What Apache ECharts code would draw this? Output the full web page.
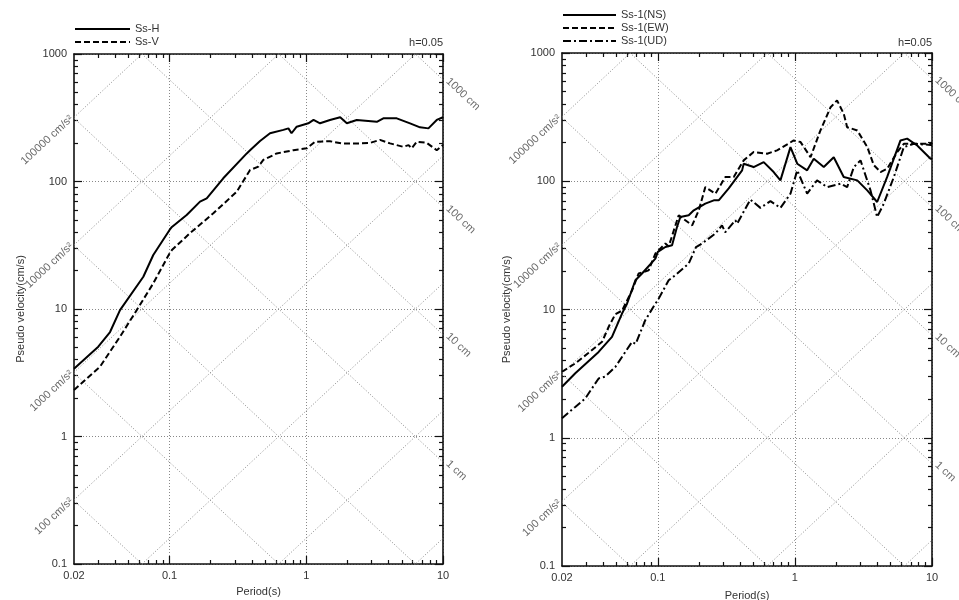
<!DOCTYPE html>
<html>
<head>
<meta charset="utf-8">
<title>Pseudo velocity response spectra</title>
<script src="https://cdn.jsdelivr.net/npm/echarts@6/dist/echarts.min.js"></script>
<style>
  html, body { margin: 0; padding: 0; background: #fff; }
  #chart { width: 959px; height: 600px; }
</style>
</head>
<body>
<div id="chart"></div>
<script>
// ---- axis ranges and tick values ----
const periodMin = 0.02, periodMax = 10;
const velMin = 0.1, velMax = 1000;
const periodLabelValues = [0.02, 0.1, 1, 10];
const periodLabels = ['0.02', '0.1', '1', '10'];
const periodMajor = [0.1, 1, 10];
const periodMinor = [0.03, 0.04, 0.05, 0.06, 0.07, 0.08, 0.09,
                     0.2, 0.3, 0.4, 0.5, 0.6, 0.7, 0.8, 0.9,
                     2, 3, 4, 5, 6, 7, 8, 9];
const velLabelValues = [0.1, 1, 10, 100, 1000];
const velLabels = ['0.1', '1', '10', '100', '1000'];
const velMinor = [0.2, 0.3, 0.4, 0.5, 0.6, 0.7, 0.8, 0.9,
                  2, 3, 4, 5, 6, 7, 8, 9,
                  20, 30, 40, 50, 60, 70, 80, 90,
                  200, 300, 400, 500, 600, 700, 800, 900];

// ---- tripartite guide lines: constant acceleration (cm/s2) and displacement (cm) ----
const accelLevels = [0.1, 1, 10, 100, 1000, 10000, 100000];
const dispLevels = [0.001, 0.01, 0.1, 1, 10, 100, 1000];
const accelLabelLevels = [100, 1000, 10000, 100000];
const accelLabelTexts = ['100 cm/s²', '1000 cm/s²', '10000 cm/s²', '100000 cm/s²'];
const dispLabelLevels = [1, 10, 100, 1000];
const dispLabelTexts = ['1 cm', '10 cm', '100 cm', '1000 cm'];

// ---- left panel: design spectra ----
const ssHPeriod = [0.02, 0.0301, 0.0367, 0.0434, 0.0643, 0.076, 0.1, 0.104, 0.1334, 0.167, 0.187, 0.247, 0.367, 0.388, 0.459, 0.543, 0.68, 0.74, 0.78, 0.851, 1.035, 1.13, 1.261, 1.49, 1.77, 1.98, 2.34, 3.28, 3.66, 4.59, 5.74, 6.79, 7.82, 9.0, 10];
const ssHVel = [3.4, 5.06, 6.6, 9.8, 17.9, 26.5, 41.7, 44, 54.6, 69.5, 73.8, 106, 166, 176, 208, 239, 254, 261, 239, 269, 286, 304, 286, 304, 319, 286, 304, 294, 313, 313, 286, 266, 261, 304, 319];
const ssVPeriod = [0.02, 0.031, 0.0434, 0.0575, 0.076, 0.1, 0.104, 0.141, 0.209, 0.31, 0.388, 0.446, 0.485, 0.608, 0.804, 1.007, 1.16, 1.49, 1.82, 2.47, 2.93, 3.46, 4.1, 5.13, 5.6, 5.9, 6.43, 7.6, 9.0, 10];
const ssVVel = [2.32, 3.53, 6.06, 9.8, 15.9, 27.3, 29, 39.3, 56.3, 83.2, 123, 131, 147.6, 166, 176, 182, 205, 207, 199, 199, 201, 212, 199, 187, 193, 182, 205, 201, 176, 193];

// ---- right panel: Ss-1 components ----
const nsPeriod = [0.02, 0.025, 0.037, 0.0463, 0.0548, 0.0596, 0.0686, 0.0767, 0.096, 0.1, 0.1135, 0.127, 0.138, 0.146, 0.168, 0.183, 0.222, 0.256, 0.278, 0.329, 0.412, 0.423, 0.5, 0.592, 0.7, 0.784, 0.928, 1.04, 1.228, 1.373, 1.624, 1.92, 2.27, 2.85, 3.37, 3.98, 4.71, 5.89, 6.59, 7.8, 9.76, 10];
const nsVel = [2.5, 3.18, 4.67, 6.12, 9.3, 11.1, 16.9, 19.1, 24.9, 28.1, 30.7, 31.7, 44, 52.6, 54.3, 59.4, 66.9, 71, 71, 88, 121.6, 137, 129, 141, 118, 101.6, 184.6, 137, 121.6, 150, 129, 154, 108, 101.6, 84.9, 68.9, 108, 208, 215, 190, 150, 150];
const ewPeriod = [0.02, 0.025, 0.0313, 0.0392, 0.044, 0.049, 0.0548, 0.0649, 0.0725, 0.0857, 0.096, 0.1135, 0.12, 0.142, 0.178, 0.199, 0.222, 0.263, 0.311, 0.358, 0.423, 0.5, 0.627, 0.741, 0.98, 1.1, 1.3, 1.535, 1.82, 2.03, 2.27, 2.405, 2.85, 3.37, 3.76, 4.21, 4.71, 5.57, 6.23, 9.76, 10];
const ewVel = [3.27, 3.8, 4.6, 5.6, 7.4, 9.2, 9.8, 14.1, 19.1, 20.2, 27.3, 32.7, 31, 54.3, 45.3, 59.4, 90, 80, 108, 108, 145.5, 168.8, 164, 174, 208, 202, 154, 249, 378, 427, 336, 264, 249, 185, 133.7, 118, 125, 168.8, 196, 196, 200];
const udPeriod = [0.02, 0.025, 0.0296, 0.037, 0.0414, 0.049, 0.0649, 0.069, 0.081, 0.096, 0.1, 0.12, 0.134, 0.168, 0.19, 0.21, 0.263, 0.294, 0.31, 0.368, 0.379, 0.473, 0.56, 0.663, 0.784, 0.928, 1.04, 1.228, 1.45, 1.72, 2.15, 2.405, 2.69, 3.01, 3.56, 3.98, 4.45, 5.27, 6.23, 7.37, 9.76, 10];
const udVel = [1.42, 1.74, 2.03, 2.9, 3.0, 3.57, 5.59, 5.4, 8.26, 11.1, 11.8, 16.9, 18.5, 22.8, 30.7, 32.7, 39.1, 45.3, 40, 49.6, 46.7, 72, 62, 70, 62, 80, 121.6, 80, 101.6, 90, 95.8, 90, 129, 145.5, 84.9, 52.6, 66.9, 108, 184.6, 196, 192, 190];

// ---- styling ----
const FONT = '"Liberation Sans", Arial, Helvetica, sans-serif';
const TEXT = '#333';
const TWO_PI = 2 * Math.PI;
const frameStyle = { color: '#111', width: 1.6 };
const tickStyle = { color: '#111', width: 1.2 };
const guideStyle = { color: '#888', width: 1, type: [1, 2] };
const SOLID = 'solid', DASHED = [6, 3], DASHDOT = [8, 3, 2, 3];

const panels = [
  { grid: { left: 74, top: 54, width: 369, height: 510 }, xNameGap: 22, yNameGap: 48,
    curves: [ { name: 'Ss-H', t: ssHPeriod, v: ssHVel, dash: SOLID },
              { name: 'Ss-V', t: ssVPeriod, v: ssVVel, dash: DASHED } ],
    legendTop: 23, legendWidth: 55 },
  { grid: { left: 562, top: 53, width: 370, height: 513 }, xNameGap: 24, yNameGap: 50,
    curves: [ { name: 'Ss-1(NS)', t: nsPeriod, v: nsVel, dash: SOLID },
              { name: 'Ss-1(EW)', t: ewPeriod, v: ewVel, dash: DASHED },
              { name: 'Ss-1(UD)', t: udPeriod, v: udVel, dash: DASHDOT } ],
    legendTop: 9, legendWidth: 53 }
];

function labelFor(values, texts) {
  return function (v) {
    for (let i = 0; i < values.length; i++) {
      if (Math.abs(Math.log10(v / values[i])) < 1e-6) return texts[i];
    }
    return '';
  };
}

function logAxis(gi, min, max, extra) {
  return Object.assign({
    type: 'log', logBase: 10, gridIndex: gi, min: min, max: max,
    axisLine: { show: false }, axisLabel: { show: false },
    splitLine: { show: false }, axisTick: { show: false }
  }, extra);
}

const grids = [], xAxes = [], yAxes = [], series = [], legends = [], titles = [];

panels.forEach(function (p, gi) {
  grids.push(Object.assign({ outerBoundsMode: 'none', containLabel: false }, p.grid));
  const axisText = { fontFamily: FONT, fontSize: 11, color: TEXT };

  // period axes: bottom (labels, major ticks), bottom minor, top mirror major/minor
  xAxes.push(logAxis(gi, periodMin, periodMax, {
    position: 'bottom', name: 'Period(s)', nameLocation: 'middle', nameGap: p.xNameGap,
    nameTextStyle: axisText,
    axisLine: { show: true, onZero: false, lineStyle: frameStyle },
    axisTick: { show: true, inside: true, length: 8, customValues: periodMajor, lineStyle: tickStyle },
    axisLabel: Object.assign({ show: true, customValues: periodLabelValues, formatter: labelFor(periodLabelValues, periodLabels),
      margin: 6, showMinLabel: true, showMaxLabel: true, hideOverlap: false }, axisText),
    splitLine: { show: true, lineStyle: guideStyle }
  }));
  xAxes.push(logAxis(gi, periodMin, periodMax, {
    position: 'bottom',
    axisTick: { show: true, inside: true, length: 4, customValues: periodMinor, lineStyle: tickStyle }
  }));
  xAxes.push(logAxis(gi, periodMin, periodMax, {
    position: 'top',
    axisLine: { show: true, onZero: false, lineStyle: frameStyle },
    axisTick: { show: true, inside: true, length: 8, customValues: periodMajor, lineStyle: tickStyle }
  }));
  xAxes.push(logAxis(gi, periodMin, periodMax, {
    position: 'top',
    axisTick: { show: true, inside: true, length: 4, customValues: periodMinor, lineStyle: tickStyle }
  }));

  // velocity axes: left (labels, major ticks), left minor, right mirror major/minor
  yAxes.push(logAxis(gi, velMin, velMax, {
    position: 'left', name: 'Pseudo velocity(cm/s)', nameLocation: 'middle', nameGap: p.yNameGap,
    nameTextStyle: axisText,
    axisLine: { show: true, onZero: false, lineStyle: frameStyle },
    axisTick: { show: true, inside: true, length: 8, customValues: velLabelValues, lineStyle: tickStyle },
    axisLabel: Object.assign({ show: true, customValues: velLabelValues, formatter: labelFor(velLabelValues, velLabels),
      margin: 7, showMinLabel: true, showMaxLabel: true, hideOverlap: false }, axisText),
    splitLine: { show: true, lineStyle: guideStyle }
  }));
  yAxes.push(logAxis(gi, velMin, velMax, {
    position: 'left',
    axisTick: { show: true, inside: true, length: 4, customValues: velMinor, lineStyle: tickStyle }
  }));
  yAxes.push(logAxis(gi, velMin, velMax, {
    position: 'right',
    axisLine: { show: true, onZero: false, lineStyle: frameStyle },
    axisTick: { show: true, inside: true, length: 8, customValues: velLabelValues, lineStyle: tickStyle }
  }));
  yAxes.push(logAxis(gi, velMin, velMax, {
    position: 'right',
    axisTick: { show: true, inside: true, length: 4, customValues: velMinor, lineStyle: tickStyle }
  }));

  const xi = gi * 4, yi = gi * 4;

  // constant-acceleration lines: Sv = A * T / (2 pi)
  accelLevels.forEach(function (a) {
    series.push({ type: 'line', xAxisIndex: xi, yAxisIndex: yi, silent: true, z: 1,
      symbol: 'none', clip: true, lineStyle: guideStyle,
      data: [[periodMin, a * periodMin / TWO_PI], [periodMax, a * periodMax / TWO_PI]] });
  });
  // constant-displacement lines: Sv = 2 pi D / T
  dispLevels.forEach(function (d) {
    series.push({ type: 'line', xAxisIndex: xi, yAxisIndex: yi, silent: true, z: 1,
      symbol: 'none', clip: true, lineStyle: guideStyle,
      data: [[periodMin, TWO_PI * d / periodMin], [periodMax, TWO_PI * d / periodMax]] });
  });

  // guide line captions at the frame edges
  series.push({ type: 'scatter', xAxisIndex: xi, yAxisIndex: yi, silent: true, clip: false, z: 4,
    symbolSize: 1, itemStyle: { color: 'transparent' },
    data: accelLabelLevels.map(function (a, i) {
      return { name: accelLabelTexts[i], value: [periodMin, a * periodMin / TWO_PI] };
    }),
    label: { show: true, formatter: '{b}', position: 'left', distance: 2, rotate: 43,
      fontFamily: FONT, fontSize: 11, color: '#444' } });
  series.push({ type: 'scatter', xAxisIndex: xi, yAxisIndex: yi, silent: true, clip: false, z: 4,
    symbolSize: 1, itemStyle: { color: 'transparent' },
    data: dispLabelLevels.map(function (d, i) {
      return { name: dispLabelTexts[i], value: [periodMax, TWO_PI * d / periodMax] };
    }),
    label: { show: true, formatter: '{b}', position: 'right', distance: 4, rotate: -43,
      fontFamily: FONT, fontSize: 11, color: '#444' } });

  // spectra
  p.curves.forEach(function (c) {
    series.push({ type: 'line', name: c.name, xAxisIndex: xi, yAxisIndex: yi, z: 3,
      symbol: 'none', clip: true, color: '#000',
      lineStyle: { color: '#000', width: 2, type: c.dash },
      data: c.t.map(function (t, i) { return [t, c.v[i]]; }) });
  });

  legends.push({ data: p.curves.map(function (c) { return c.name; }),
    left: p.grid.left, top: p.legendTop, orient: 'vertical', padding: 0,
    itemWidth: p.legendWidth, itemHeight: 12, itemGap: 1, selectedMode: false,
    itemStyle: { color: 'rgba(0,0,0,0)', borderWidth: 0, opacity: 0 },
    textStyle: { fontFamily: FONT, fontSize: 11, color: TEXT, lineHeight: 12 } });

  titles.push({ text: 'h=0.05', right: 959 - (p.grid.left + p.grid.width), top: 37, padding: 0,
    textStyle: { fontFamily: FONT, fontSize: 11, fontWeight: 'normal', color: TEXT } });
});

const chart = echarts.init(document.getElementById('chart'), null, { renderer: 'canvas' });
chart.setOption({
  backgroundColor: '#fff',
  animation: false,
  title: titles,
  legend: legends,
  grid: grids,
  xAxis: xAxes,
  yAxis: yAxes,
  series: series
});
</script>
</body>
</html>
